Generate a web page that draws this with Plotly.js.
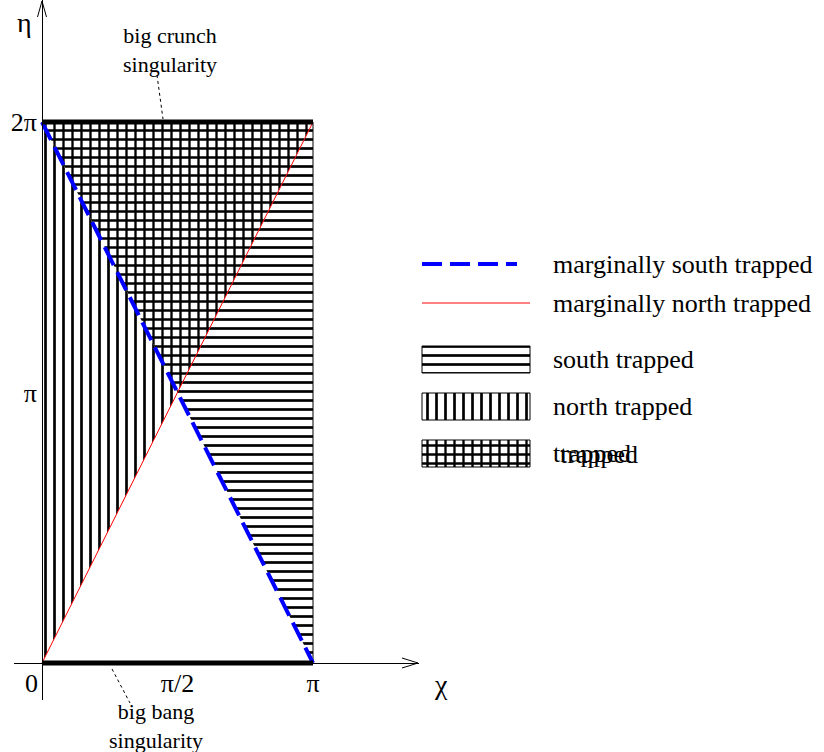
<!DOCTYPE html>
<html>
<head>
<meta charset="utf-8">
<script src="https://cdn.plot.ly/plotly-3.0.1.min.js"></script>
</head>
<body style="margin:0;background:#fff">
<div style="position:absolute;left:560px;top:440px;font-family:Liberation Serif;font-size:26px;color:#000">trapped</div>
<div id="plot" style="position:absolute;left:0;top:0;width:824px;height:752px"></div>
<script>
const PI = Math.PI;
// region vertices (chi, eta)
const northTrappedChi = [0, PI/2, 0, 0];
const northTrappedEta = [0, PI, 2*PI, 0];
const southTrappedChi = [PI, PI/2, PI, PI];
const southTrappedEta = [0, PI, 2*PI, 0];
const trappedChi = [0, PI/2, PI, 0];
const trappedEta = [2*PI, PI, 2*PI, 2*PI];
// marginal lines
const margSouthChi = [0, PI];
const margSouthEta = [2*PI, 0];
const margNorthChi = [0, PI];
const margNorthEta = [0, 2*PI];
// singularities and edge
const bangChi = [0, PI];
const bangEta = [0, 0];
const crunchChi = [0, PI];
const crunchEta = [2*PI, 2*PI];
const edgeChi = [PI, PI];
const edgeEta = [0, 2*PI];
// ticks
const chiTickVals = [PI/2, PI];
const chiTickText = ['π/2', 'π'];
const etaTickVals = [PI, 2*PI];
const etaTickText = ['π', '2π'];
const legendLabels = ['marginally south trapped', 'marginally north trapped', 'south trapped', 'north trapped', 'trapped'];

const FONT = 'Liberation Serif';
const W = 824, H = 752;
const px0 = 42, pxPi = 313, py0 = 663, py2Pi = 122;
const sx = (pxPi - px0) / PI, sy = (py0 - py2Pi) / (2*PI);

function pat(shape, sol) {
  return {shape: shape, size: 9, solidity: sol, fgcolor: 'black', bgcolor: 'white', fgopacity: 1};
}
const SOL_LINE = 0.3, SOL_CROSS = 0.45;

const traces = [
  {x: northTrappedChi, y: northTrappedEta, mode: 'lines', fill: 'toself', line: {width: 0, color: 'rgba(0,0,0,0)'}, fillpattern: pat('|', SOL_LINE), fillcolor: 'white', hoverinfo: 'skip', showlegend: false},
  {x: southTrappedChi, y: southTrappedEta, mode: 'lines', fill: 'toself', line: {width: 0, color: 'rgba(0,0,0,0)'}, fillpattern: pat('-', SOL_LINE), fillcolor: 'white', hoverinfo: 'skip', showlegend: false},
  {x: trappedChi, y: trappedEta, mode: 'lines', fill: 'toself', line: {width: 0, color: 'rgba(0,0,0,0)'}, fillpattern: pat('+', SOL_CROSS), fillcolor: 'white', hoverinfo: 'skip', showlegend: false},
  {x: edgeChi, y: edgeEta, mode: 'lines', line: {color: 'black', width: 1}, showlegend: false, hoverinfo: 'skip'},
  {x: margNorthChi, y: margNorthEta, mode: 'lines', line: {color: 'red', width: 1}, showlegend: false},
  {x: margSouthChi, y: margSouthEta, mode: 'lines', line: {color: 'blue', width: 4, dash: '20px,8px'}, showlegend: false},
  {x: bangChi, y: bangEta, mode: 'lines', line: {color: 'black', width: 5}, showlegend: false},
  {x: crunchChi, y: crunchEta, mode: 'lines', line: {color: 'black', width: 5}, showlegend: false}
];

const ov = {xaxis: 'x2', yaxis: 'y2', hoverinfo: 'skip', showlegend: false};
function rect(x0, x1, y0, y1) { return {x: [x0, x1, x1, x0, x0], y: [y0, y0, y1, y1, y0]}; }
traces.push(Object.assign({x: [402, 418, 402], y: [658, 663, 668], mode: 'lines', line: {color: 'black', width: 1}}, ov));
traces.push(Object.assign({x: [37.5, 42, 46.5], y: [17, 1, 17], mode: 'lines', line: {color: 'black', width: 1}}, ov));
traces.push(Object.assign({x: [157, 163], y: [75, 119], mode: 'lines', line: {color: 'black', width: 1, dash: 'dot'}}, ov));
traces.push(Object.assign({x: [112, 130], y: [669, 703], mode: 'lines', line: {color: 'black', width: 1, dash: 'dot'}}, ov));
traces.push(Object.assign({x: [422, 517], y: [264, 264], mode: 'lines', line: {color: 'blue', width: 4, dash: '20px,8px'}}, ov));
traces.push(Object.assign({x: [422, 530], y: [303, 303], mode: 'lines', line: {color: 'red', width: 1}}, ov));
const keyShapes = ['-', '|', '+'];
const keySol = [SOL_LINE, SOL_LINE, SOL_CROSS];
const keyTops = [346, 393, 440];
keyShapes.forEach((s, i) => {
  const r = rect(422, 530, keyTops[i], keyTops[i] + 27);
  traces.push(Object.assign({x: r.x, y: r.y, mode: 'lines', fill: 'toself', fillcolor: 'white', fillpattern: pat(s, keySol[i]), line: {color: 'black', width: 1}}, ov));
});

const legendY = [264, 303, 359, 406, 453];
const annotations = legendLabels.map((t, i) => ({
  xref: 'x2', yref: 'y2', x: 551, y: legendY[i], text: t, showarrow: false,
  xanchor: 'left', yanchor: 'middle', font: {family: FONT, size: 26, color: 'black'}
}));
annotations.push({xref: 'x2', yref: 'y2', x: 170, y: 50, text: 'big crunch<br>singularity', showarrow: false, xanchor: 'center', yanchor: 'middle', font: {family: FONT, size: 22, color: 'black'}});
annotations.push({xref: 'x2', yref: 'y2', x: 156, y: 726, text: 'big bang<br>singularity', showarrow: false, xanchor: 'center', yanchor: 'middle', font: {family: FONT, size: 22, color: 'black'}});
annotations.push({xref: 'x2', yref: 'y2', x: 31, y: 683, text: '0', showarrow: false, xanchor: 'center', yanchor: 'middle', font: {family: FONT, size: 26, color: 'black'}});
annotations.push({xref: 'x2', yref: 'y2', x: 441, y: 684, text: 'χ', showarrow: false, xanchor: 'center', yanchor: 'middle', font: {family: FONT, size: 28, color: 'black'}});
annotations.push({xref: 'x2', yref: 'y2', x: 24, y: 22, text: 'η', showarrow: false, xanchor: 'center', yanchor: 'middle', font: {family: FONT, size: 28, color: 'black'}});

const layout = {
  width: W, height: H,
  margin: {l: 0, r: 0, t: 0, b: 0, pad: 0},
  paper_bgcolor: 'rgba(0,0,0,0)', plot_bgcolor: 'rgba(0,0,0,0)',
  showlegend: false,
  xaxis: {
    domain: [14/W, 419/W], range: [(14 - px0)/sx, (419 - px0)/sx],
    anchor: 'free', position: (H - py0)/H,
    showline: true, linecolor: 'black', linewidth: 1, mirror: false,
    showgrid: false, zeroline: false, ticks: '', ticklabelstandoff: -3,
    tickvals: chiTickVals, ticktext: chiTickText,
    tickfont: {family: FONT, size: 26, color: 'black'}, fixedrange: true
  },
  yaxis: {
    domain: [(H - 700)/H, 1], range: [(py0 - 700)/sy, py0/sy],
    anchor: 'free', position: px0/W,
    showline: true, linecolor: 'black', linewidth: 1,
    showgrid: false, zeroline: false, ticks: '',
    tickvals: etaTickVals, ticktext: etaTickText,
    tickfont: {family: FONT, size: 26, color: 'black'}, fixedrange: true
  },
  xaxis2: {domain: [0, 1], range: [0, W], visible: false, anchor: 'y2', fixedrange: true},
  yaxis2: {domain: [0, 1], range: [H, 0], visible: false, anchor: 'x2', fixedrange: true},
  annotations: annotations
};

Plotly.newPlot('plot', traces, layout, {staticPlot: true});
</script>
</body>
</html>
